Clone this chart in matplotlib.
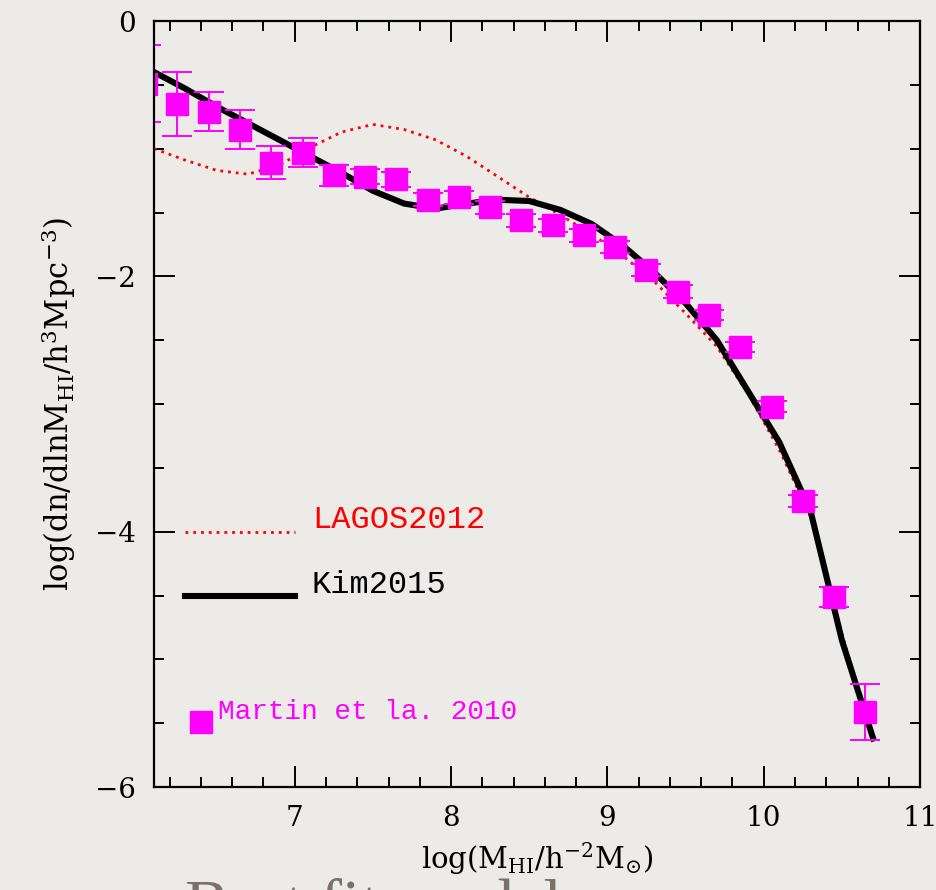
import numpy as np
import matplotlib.pyplot as plt
from matplotlib.ticker import MultipleLocator

plt.rcParams['font.family'] = 'DejaVu Serif'
plt.rcParams['mathtext.fontset'] = 'dejavuserif'

### HI mass function, Martin et al. 2010 (ALFALFA)
martin_x = [6.05, 6.25, 6.45, 6.65, 6.85, 7.05, 7.25, 7.45, 7.65, 7.85, 8.05, 8.25,
            8.45, 8.65, 8.85, 9.05, 9.25, 9.45, 9.65, 9.85, 10.05, 10.25, 10.45, 10.65]
martin_y = [-0.49, -0.65, -0.71, -0.85, -1.11, -1.03, -1.21, -1.22, -1.24, -1.40, -1.38, -1.46,
            -1.56, -1.60, -1.68, -1.77, -1.95, -2.12, -2.30, -2.555, -3.02, -3.76, -4.51, -5.41]
martin_err = [0.30, 0.25, 0.15, 0.15, 0.13, 0.11, 0.08, 0.06, 0.06, 0.05, 0.05, 0.05,
              0.05, 0.05, 0.05, 0.05, 0.05, 0.05, 0.04, 0.04, 0.04, 0.05, 0.08, 0.22]

### model curves
model_x = [6.1, 6.3, 6.5, 6.7, 6.9, 7.1, 7.3, 7.5, 7.7, 7.9, 8.1, 8.3,
           8.5, 8.7, 8.9, 9.1, 9.3, 9.5, 9.7, 9.9, 10.1, 10.3, 10.5, 10.7]
kim_y = [-0.40, -0.53, -0.67, -0.80, -0.93, -1.06, -1.19, -1.33, -1.43, -1.47, -1.43, -1.40,
         -1.41, -1.48, -1.59, -1.76, -1.97, -2.21, -2.50, -2.90, -3.30, -3.84, -4.85, -5.62]
lagos_y = [-1.00, -1.09, -1.17, -1.20, -1.13, -0.99, -0.87, -0.81, -0.85, -0.93, -1.06, -1.22,
           -1.38, -1.52, -1.67, -1.84, -2.04, -2.29, -2.55, -2.92, -3.36, -3.88, -4.80, -5.62]

bg = '#ecebe7'
magenta = '#ff00ff'
dots = (0, (1, 1.8))

fig = plt.figure(figsize=(9.37, 8.90), dpi=100, facecolor=bg)
ax = fig.add_axes([0.1644, 0.1157, 0.8175, 0.8607], facecolor=bg)

ax.plot(model_x, lagos_y, color='red', lw=2.0, linestyle=dots)
ax.plot(model_x, kim_y, color='black', lw=4.4, solid_joinstyle='miter')
ax.errorbar(martin_x, martin_y, yerr=martin_err, fmt='s', color=magenta, ms=16,
            mec=magenta, ecolor=magenta, elinewidth=1.4, capsize=11, capthick=1.4)

### legend drawn by hand
ax.plot([6.3, 7.0], [-4.0, -4.0], color='red', lw=2.0, linestyle=dots)
ax.text(7.11, -3.91, 'LAGOS2012', color='red', fontsize=23,
        family='Liberation Mono', va='center')
ax.plot([6.3, 7.0], [-4.5, -4.5], color='black', lw=4.4)
ax.text(7.11, -4.42, 'Kim2015', color='black', fontsize=23,
        family='Liberation Mono', va='center')
ax.plot([6.40], [-5.49], 's', color=magenta, ms=16)
ax.text(6.51, -5.41, 'Martin et la. 2010', color=magenta, fontsize=20,
        family='Liberation Mono', va='center')

ax.set_xlim(6.1, 11)
ax.set_ylim(-6, 0)
ax.xaxis.set_major_locator(MultipleLocator(1))
ax.xaxis.set_minor_locator(MultipleLocator(0.2))
ax.yaxis.set_major_locator(MultipleLocator(2))
ax.yaxis.set_minor_locator(MultipleLocator(0.5))
ax.tick_params(which='both', direction='in', top=True, right=True, width=1.4,
               labelsize=20, pad=13)
ax.tick_params(which='major', length=15)
ax.tick_params(which='minor', length=7.5)
for s in ax.spines.values():
    s.set_linewidth(1.6)

ax.set_xlabel(r'log(M$_{\rm HI}$/h$^{-2}$M$_{\odot}$)', fontsize=21, labelpad=6)
ax.set_ylabel(r'log(dn/dlnM$_{\rm HI}$/h$^{3}$Mpc$^{-3}$)', fontsize=22, labelpad=12)

fig.text(185 / 937, -0.04, 'Best fit model', fontsize=48, color='#7a726a',
         family='Liberation Serif', va='baseline')

plt.savefig('out.png', dpi=100, facecolor=bg)
